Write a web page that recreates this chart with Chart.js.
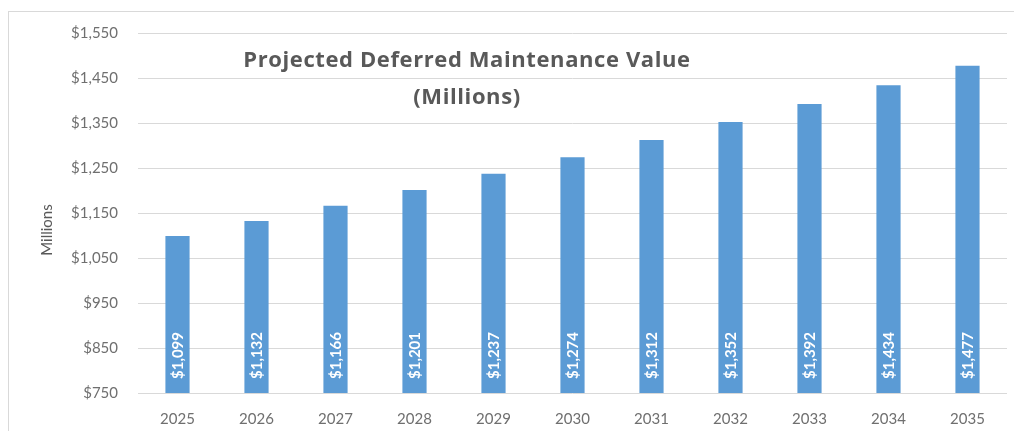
<!DOCTYPE html>
<html>
<head>
<meta charset="utf-8">
<title>Projected Deferred Maintenance Value</title>
<script src="https://cdn.jsdelivr.net/npm/chart.js@4"></script>
<style>
    html, body { margin: 0; padding: 0; background: #fff; }
    #wrap { position: relative; width: 1014px; height: 431px; }
    #frame { position: absolute; left: 8px; top: 11px; right: -2px; bottom: -2px;
             border-top: 1px solid #d9d9d9; border-left: 1px solid #d9d9d9; }
    canvas { position: absolute; left: 0; top: 0; }
</style>
</head>
<body>
<div id="wrap">
    <div id="frame"></div>
    <canvas id="chart" width="1014" height="431"></canvas>
</div>
<script>
// Chart data
const years = ['2025', '2026', '2027', '2028', '2029', '2030', '2031', '2032', '2033', '2034', '2035'];
const values = [1099, 1132, 1166, 1201, 1237, 1274, 1312, 1352, 1392, 1434, 1477];
const titleLines = ['Projected Deferred Maintenance Value', '(Millions)'];
const axisTitle = 'Millions';

const FONT = 'Lato, "Open Sans", sans-serif';
const TITLE_FONT = '"Open Sans", Lato, sans-serif';
const GREY = '#6f6f6f';

function money(v) {
    return '$' + Number(v).toLocaleString('en-US');
}

// Draws the title inside the plot, the axis title and the labels in the bars
const overlayPlugin = {
    id: 'overlay',
    afterDraw(chart) {
        const ctx = chart.ctx;
        const area = chart.chartArea;
        const yScale = chart.scales.y;
        const basePx = yScale.getPixelForValue(yScale.min);

        // value labels, rotated, anchored near the bar base
        const meta = chart.getDatasetMeta(0);
        ctx.save();
        ctx.fillStyle = '#ffffff';
        ctx.font = 'bold 15px ' + FONT;
        ctx.textAlign = 'left';
        ctx.textBaseline = 'middle';
        meta.data.forEach((bar, i) => {
            ctx.save();
            ctx.translate(bar.x, basePx - 14);
            ctx.rotate(-Math.PI / 2);
            ctx.fillText(money(values[i]), 0, 1);
            ctx.restore();
        });
        ctx.restore();

        // chart title
        ctx.save();
        ctx.fillStyle = '#595959';
        ctx.font = 'bold 22px ' + TITLE_FONT;
        ctx.letterSpacing = '0.6px';
        ctx.textAlign = 'center';
        ctx.textBaseline = 'middle';
        ctx.fillText(titleLines[0], area.left + 329, area.top + 28);
        ctx.fillText(titleLines[1], area.left + 329, area.top + 65);
        ctx.restore();

        // y axis title
        ctx.save();
        ctx.fillStyle = '#595959';
        ctx.font = '15px ' + FONT;
        ctx.textAlign = 'center';
        ctx.textBaseline = 'middle';
        ctx.translate(47, area.top + 197);
        ctx.rotate(-Math.PI / 2);
        ctx.fillText(axisTitle, 0, 0);
        ctx.restore();
    }
};

const chart = new Chart(document.getElementById('chart'), {
    type: 'bar',
    data: {
        labels: years,
        datasets: [{
            data: values,
            backgroundColor: '#5b9bd5',
            borderWidth: 0,
            barPercentage: 0.6,
            categoryPercentage: 0.51
        }]
    },
    options: {
        responsive: false,
        animation: false,
        layout: { padding: { top: 33, right: 7, bottom: 0, left: 0 } },
        plugins: {
            legend: { display: false },
            title: { display: false },
            tooltip: { enabled: false }
        },
        scales: {
            x: {
                grid: { display: false },
                border: { display: false },
                ticks: { color: GREY, font: { family: FONT, size: 15 }, padding: 9, maxRotation: 0 },
                afterFit(scale) { scale.height = 38; }
            },
            y: {
                min: 750,
                max: 1550,
                ticks: {
                    stepSize: 100,
                    color: GREY,
                    font: { family: FONT, size: 15 },
                    padding: 20,
                    callback: v => money(v)
                },
                grid: { color: '#d9d9d9', lineWidth: 1, drawTicks: false },
                border: { display: false },
                afterFit(scale) { scale.width = 138; }
            }
        }
    },
    plugins: [overlayPlugin]
});
</script>
</body>
</html>
